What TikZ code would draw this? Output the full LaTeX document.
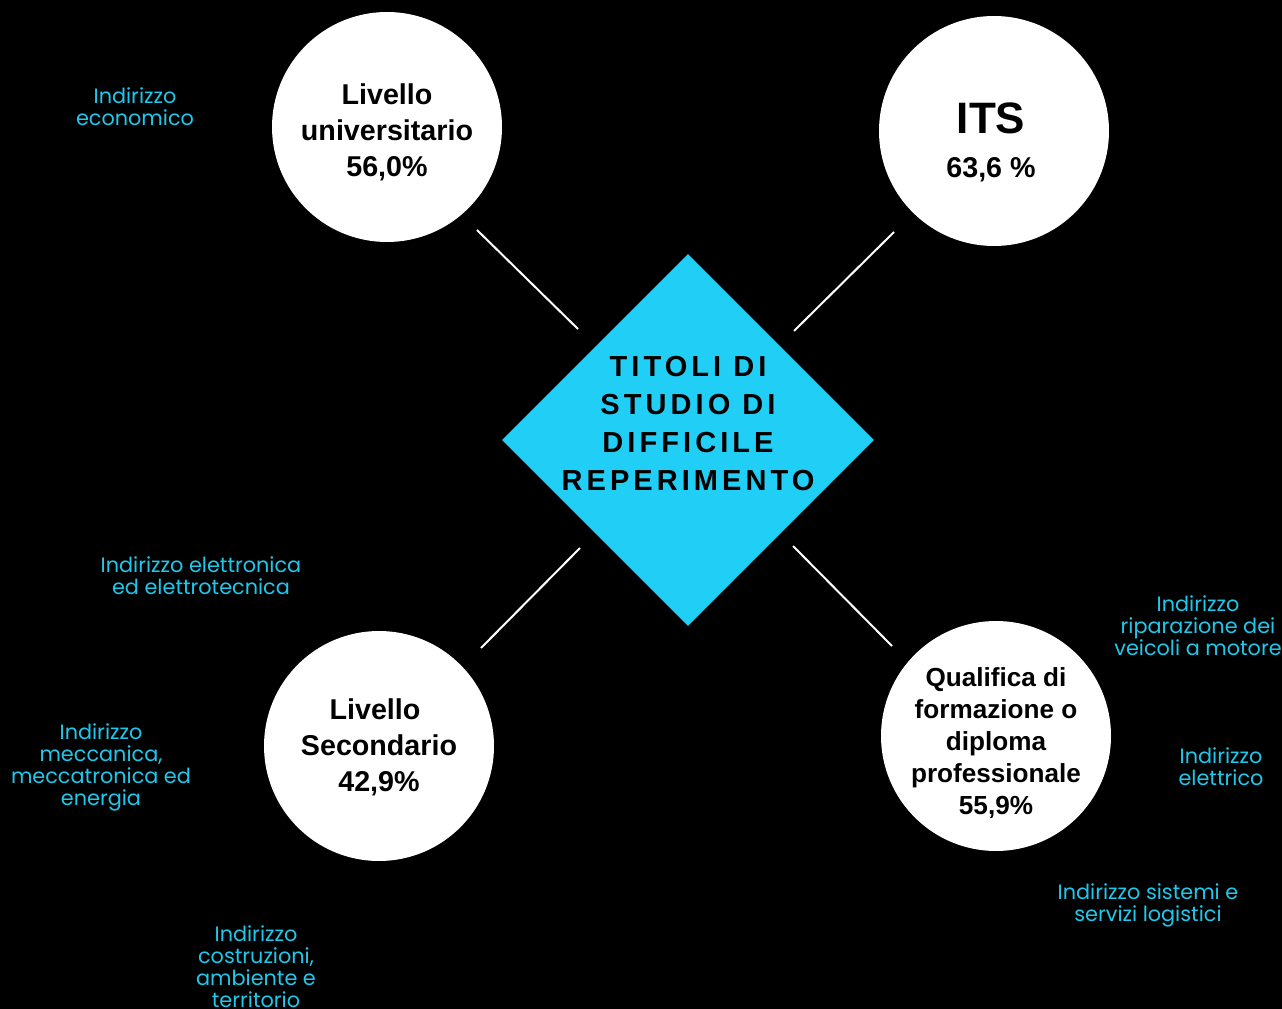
\documentclass[tikz,border=0pt]{standalone}
\usepackage{fontspec}
\setmainfont{Liberation Sans}
\newfontfamily\labfont{Poppins}
\newfontfamily\diafont[LetterSpace=14]{Liberation Sans}
\usetikzlibrary{shapes.geometric}
\definecolor{dcyan}{RGB}{33,206,245}
\definecolor{lcyan}{RGB}{30,200,235}
\begin{document}
\begin{tikzpicture}[x=0.75pt,y=-0.75pt,
  circ/.style={circle,fill=white,draw=none,minimum size=172.5pt,inner sep=0pt,align=center,text=black,font=\bfseries\fontsize{21.5}{27}\selectfont},
  lab/.style={text=lcyan,align=center,inner sep=0pt,font=\labfont\fontsize{15.6}{16.5}\selectfont},
  link/.style={draw=white,line width=1.5pt}]
\fill[black] (0,0) rectangle (1282,1009);
\useasboundingbox (0,0) rectangle (1282,1009);
% diamond
\node[diamond,fill=dcyan,minimum width=279pt,minimum height=279pt,inner sep=0pt] (dia) at (688,440) {};
\node[align=center,font=\diafont\bfseries\fontsize{21.75}{28.5}\selectfont,text=black] (diat) at (688,424) {TITOLI DI\\STUDIO DI\\DIFFICILE\\REPERIMENTO};
% circles
\node[circ] (uni) at (387,127) {};
\node[align=center,font=\bfseries\fontsize{21.5}{27}\selectfont] (unit) at (387,132) {Livello\\universitario\\56,0\%};
\node[circ] (its) at (994,131) {};
\node[align=center,inner sep=0pt] (itst) at (991,142.5) {{\bfseries\fontsize{33}{36}\selectfont ITS}\\[16.5pt]{\bfseries\fontsize{21.5}{27}\selectfont 63,6 \%}};
\node[circ] (sec) at (379,746) {};
\node[align=center,font=\bfseries\fontsize{21.5}{27}\selectfont] (sect) at (379,747) {Livello\hspace*{6pt}\\Secondario\\42,9\%};
\node[circ] (qual) at (996,736) {};
\node[align=center,font=\bfseries\fontsize{19.6}{24}\selectfont] (qualt) at (996,743) {Qualifica di\\formazione o\\diploma\\professionale\\55,9\%};
% connectors
\coordinate (ula) at (477,230); \coordinate (ulb) at (578,329);
\coordinate (ura) at (894,232); \coordinate (urb) at (794,331);
\coordinate (lla) at (580,548); \coordinate (llb) at (481,648);
\coordinate (lra) at (793,546); \coordinate (lrb) at (892,646);
\draw[link] (ula) -- (ulb);
\draw[link] (ura) -- (urb);
\draw[link] (lla) -- (llb);
\draw[link] (lra) -- (lrb);
% labels
\node[lab] (l1) at (135,106.5) {Indirizzo\\economico};
\node[lab] (l2) at (201,575.5) {Indirizzo elettronica\\ed elettrotecnica};
\node[lab] (l3) at (101,767) {Indirizzo\\meccanica,\\meccatronica ed\\energia};
\node[lab] (l4) at (256,967) {Indirizzo\\costruzioni,\\ambiente e\\territorio};
\node[lab] (l5) at (1198,625.5) {Indirizzo\\riparazione dei\\veicoli a motore};
\node[lab] (l6) at (1221,766.5) {Indirizzo\\elettrico};
\node[lab] (l7) at (1148,905) {Indirizzo sistemi e\\servizi logistici};
\end{tikzpicture}
\end{document}
